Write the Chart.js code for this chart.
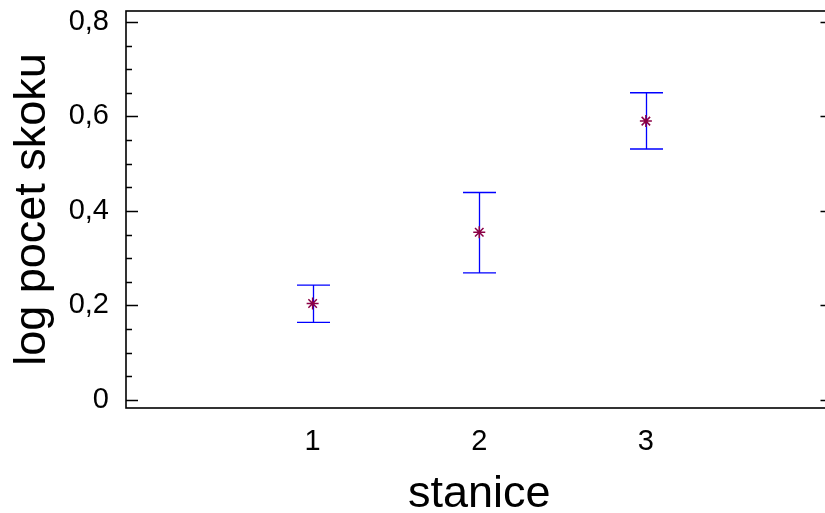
<!DOCTYPE html>
<html>
<head>
<meta charset="utf-8">
<script src="https://cdn.jsdelivr.net/npm/chart.js@4"></script>
<style>
  html, body { margin: 0; background: #fff; overflow: hidden; }
  #wrap { width: 825px; height: 513px; overflow: hidden; }
</style>
</head>
<body>
<div id="wrap"><canvas id="c" width="840" height="513"></canvas></div>
<script>
// values
const stations = [1, 2, 3];
const means = [0.204, 0.355, 0.590];
const lower = [0.164, 0.269, 0.531];
const upper = [0.243, 0.439, 0.650];
const yTicks = [0, 0.2, 0.4, 0.6, 0.8];
const yMinor = [0.05, 0.1, 0.15, 0.25, 0.3, 0.35, 0.45, 0.5, 0.55, 0.65, 0.7, 0.75];
const xTicks = [1, 2, 3];

const FONT = "'Liberation Sans', Arial, sans-serif";

// error bars under the markers, frame + inward tick marks on top
const frame = {
  id: "frame",
  beforeDatasetsDraw(chart) {
    const { ctx, scales: { x, y } } = chart;
    ctx.save();
    ctx.strokeStyle = "#0000ff";
    ctx.lineWidth = 1.3;
    stations.forEach((s, i) => {
      const px = Math.round(x.getPixelForValue(s)) + 0.5;
      const yl = y.getPixelForValue(lower[i]);
      const yu = y.getPixelForValue(upper[i]);
      ctx.beginPath();
      ctx.moveTo(px, yu); ctx.lineTo(px, yl);
      ctx.moveTo(px - 16.5, yu); ctx.lineTo(px + 16.5, yu);
      ctx.moveTo(px - 16.5, yl); ctx.lineTo(px + 16.5, yl);
      ctx.stroke();
    });
    ctx.restore();
  },
  afterDraw(chart) {
    const { ctx, chartArea: a, scales: { y } } = chart;
    ctx.save();
    ctx.strokeStyle = "#000";
    ctx.lineWidth = 1.6;
    ctx.strokeRect(a.left, a.top, a.right - a.left, a.bottom - a.top);
    ctx.lineWidth = 1.3;
    ctx.beginPath();
    yTicks.forEach(v => {
      const py = Math.round(y.getPixelForValue(v)) + 0.5;
      ctx.moveTo(a.left, py); ctx.lineTo(a.left + 12, py);
      ctx.moveTo(a.right, py); ctx.lineTo(a.right - 12, py);
    });
    yMinor.forEach(v => {
      const py = Math.round(y.getPixelForValue(v)) + 0.5;
      ctx.moveTo(a.left, py); ctx.lineTo(a.left + 6, py);
      ctx.moveTo(a.right, py); ctx.lineTo(a.right - 6, py);
    });
    ctx.stroke();
    ctx.restore();
  }
};

new Chart(document.getElementById("c"), {
  type: "scatter",
  data: {
    datasets: [{
      data: stations.map((s, i) => ({ x: s, y: means[i] })),
      pointStyle: "star",
      radius: 6,
      borderWidth: 1.5,
      borderColor: "#8b0045",
      backgroundColor: "#8b0045"
    }]
  },
  options: {
    responsive: false,
    animation: false,
    devicePixelRatio: 1,
    layout: { padding: { top: 11, right: 5, left: 0, bottom: 0 } },
    plugins: { legend: { display: false }, tooltip: { enabled: false } },
    scales: {
      x: {
        type: "linear",
        min: -0.12,
        max: 4.12,
        afterFit: s => { s.height = 105; s.paddingLeft = 0; s.paddingRight = 0; },
        afterBuildTicks: s => { s.ticks = xTicks.map(v => ({ value: v })); },
        grid: { display: false, drawTicks: false },
        border: { display: false },
        ticks: { color: "#000", padding: 17, font: { family: FONT, size: 29 } },
        title: { display: true, text: "stanice", color: "#000", padding: { top: 0, bottom: 0 }, font: { family: FONT, size: 45, lineHeight: 0.8 } }
      },
      y: {
        min: -0.017,
        max: 0.823,
        afterFit: s => { s.width = 126; s.paddingTop = 0; s.paddingBottom = 0; },
        afterBuildTicks: s => { s.ticks = yTicks.map(v => ({ value: v })); },
        grid: { display: false, drawTicks: false },
        border: { display: false },
        ticks: {
          color: "#000", padding: 17, font: { family: FONT, size: 29 },
          callback: v => String(v).replace(".", ",")
        },
        title: { display: true, text: "log pocet skoku", color: "#000", padding: { top: 6, bottom: 0 }, font: { family: FONT, size: 45 } }
      }
    }
  },
  plugins: [frame]
});
</script>
</body>
</html>
